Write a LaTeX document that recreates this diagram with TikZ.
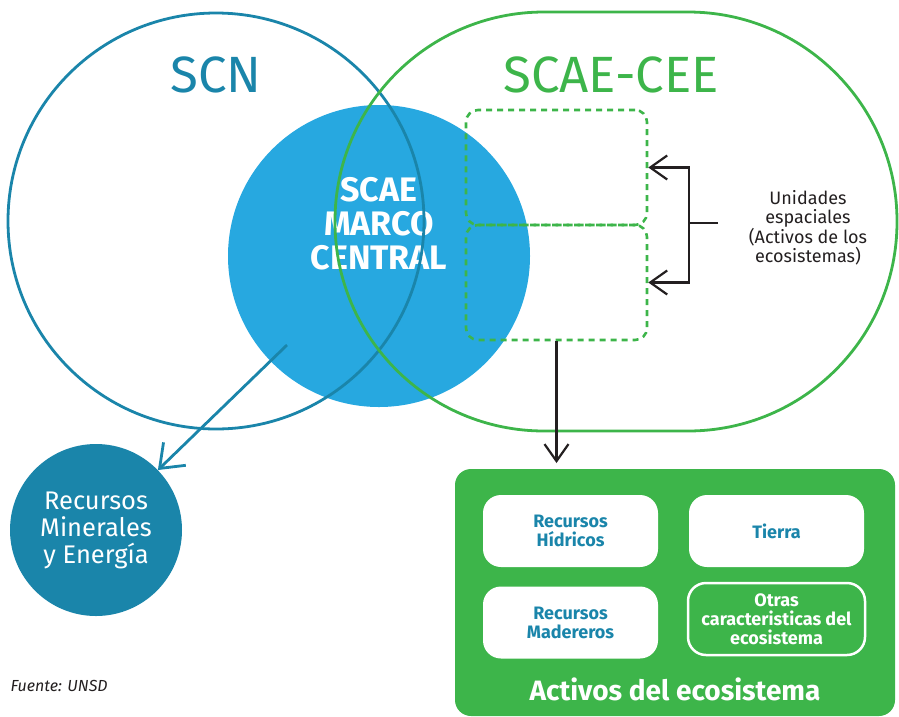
\documentclass[tikz,border=0pt]{standalone}
\usepackage{fontspec}
\setmainfont{Fira Sans}
\usetikzlibrary{arrows.meta}
\definecolor{scnblue}{HTML}{1A85AA}
\definecolor{coreblue}{HTML}{27A8E0}
\definecolor{ceegreen}{HTML}{3DB54A}
\definecolor{txtgray}{HTML}{231F20}

\begin{document}
\begin{tikzpicture}[x=1pt,y=-1pt,
  dashbox/.style={draw=ceegreen,line width=2.6pt,dash pattern=on 6pt off 5pt,
    rounded corners=12pt,minimum width=181pt,minimum height=115pt},
  assetbox/.style={fill=white,rounded corners=18pt,minimum width=175pt,
    minimum height=72pt,text=scnblue,align=center,
    font=\bfseries\fontsize{18}{19}\selectfont},
  barb/.style={-{Straight Barb[length=17pt,width=24pt]},line width=2.2pt,txtgray}]
  \useasboundingbox (0,0) rectangle (899,716);
  % central framework
  \node[circle,fill=coreblue,minimum size=302pt,inner sep=0pt] (core) at (379,256) {};
  \node[white,align=center,font=\bfseries\fontsize{34}{34}\selectfont] (coretxt) at (379,224)
    {SCAE\\MARCO\\CENTRAL};
  % the two systems
  \node[circle,draw=scnblue,line width=2.8pt,minimum size=416pt,inner sep=0pt] (scn) at (216,221) {};
  \draw[ceegreen,line width=2.8pt,rounded corners=209pt] (335,12) rectangle (897,431);
  \node[scnblue,font=\fontsize{51}{51}\selectfont] (scnlbl) at (216,75) {SCN};
  \node[ceegreen,font=\fontsize{51}{51}\selectfont] (ceelbl) at (611,75) {SCAE-CEE};
  % spatial units
  \node[dashbox] (upbox) at (556.5,167.5) {};
  \node[dashbox] (lowbox) at (556.5,282.5) {};
  \node[txtgray,align=center,font=\fontsize{18}{19.5}\selectfont] (units) at (808,228)
    {Unidades\\espaciales\\(Activos de los\\ecosistemas)};
  \coordinate (fork) at (689,223);
  \draw[line width=2.2pt,txtgray] (718,223) -- (fork);
  \draw[barb] (fork) |- (upbox.east);
  \draw[barb] (fork) |- (lowbox.east);
  % ecosystem assets
  \draw[fill=ceegreen,draw=none,rounded corners=16pt] (455,469) rectangle (895,716);
  \coordinate (assets) at (675,469);
  \draw[barb] (lowbox.south) -- (lowbox.south |- assets) [shorten >=6pt];
  \node[assetbox] (water) at (570.5,531) {Recursos\\Hídricos};
  \node[assetbox] (land) at (776.5,531) {Tierra};
  \node[assetbox] (timber) at (570.5,622.5) {Recursos\\Madereros};
  \node[assetbox,fill=ceegreen,draw=white,line width=2.5pt,text=white,
    minimum width=177pt,minimum height=72pt] (other) at (776.5,619)
    {Otras\\caracteristicas del\\ecosistema};
  \node[white,font=\bfseries\fontsize{28}{28}\selectfont] (assetlbl) at (675,689)
    {Activos del ecosistema};
  % minerals and energy
  \node[circle,fill=scnblue,minimum size=172pt,inner sep=0pt,text=white,align=center,
    font=\fontsize{25.5}{27}\selectfont] (minerals) at (96,530)
    {Recursos\\Minerales\\y Energía};
  \coordinate (scnout) at (287,345);
  \draw[scnblue,line width=2.8pt,-{Straight Barb[length=21pt,width=32pt]}] (scnout) -- (minerals);
  \node[txtgray,anchor=west,font=\itshape\fontsize{16}{16}\selectfont] (source) at (7,686)
    {Fuente: UNSD};
\end{tikzpicture}
\end{document}
